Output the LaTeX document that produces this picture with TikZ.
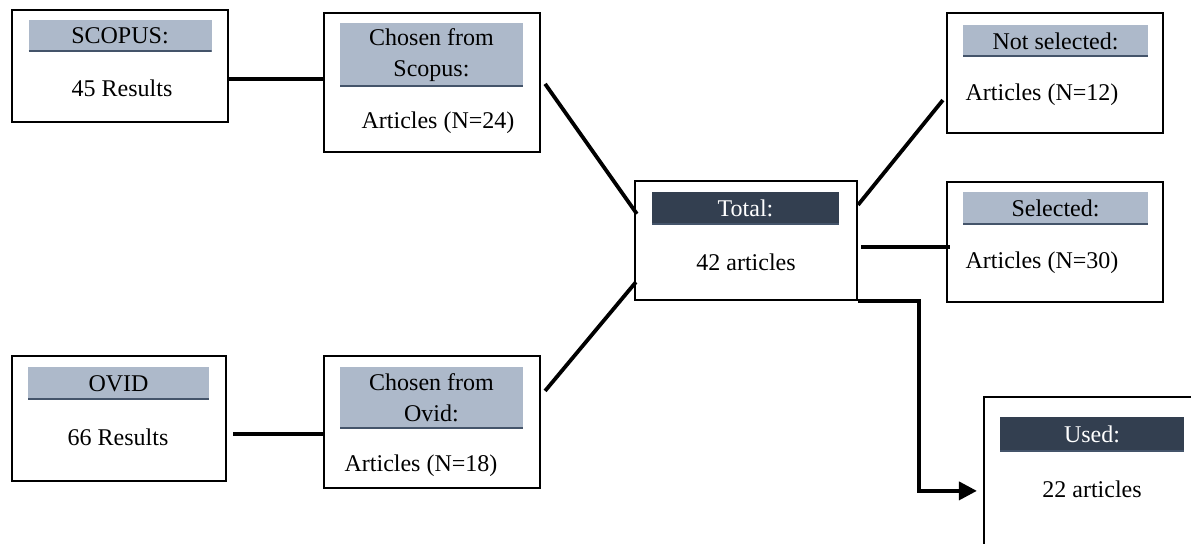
\documentclass[tikz,border=0pt]{standalone}
\usepackage{fontspec}
\setmainfont{Liberation Serif}
\usetikzlibrary{arrows.meta, positioning, calc}
\definecolor{headlight}{HTML}{ADB9CA}
\definecolor{headdark}{HTML}{333F50}
\definecolor{headline}{HTML}{44546A}
\tikzset{
  box/.style={draw, line width=1.1pt, fill=white, inner sep=0pt},
  head/.style={fill=headlight, inner sep=0pt, align=center,
    path picture={\draw[headline, line width=2pt] (path picture bounding box.south west) -- (path picture bounding box.south east);}},
  headdk/.style={head, fill=headdark, text=white},
  conn/.style={line width=1.9pt},
}
\begin{document}
\begin{tikzpicture}[x=0.5pt, y=-0.5pt, font=\fontsize{12}{15.5}\selectfont]
      \useasboundingbox (0,0) rectangle (1191,544);
      \clip (0,0) rectangle (1191,544);

      % sources
      \node[box, minimum width=108pt, minimum height=56pt] (scopus) at (120, 66) {};
      \node[head, minimum width=91.5pt, minimum height=16pt] (scopush) at (120, 36) {SCOPUS:};
      \node (scopust) at (122, 88) {45 Results};

      \node[box, minimum width=107pt, minimum height=62.5pt] (ovid) at (119, 418.5) {};
      \node[head, minimum width=90.5pt, minimum height=16.5pt] (ovidh) at (118.5, 383.5) {OVID};
      \node (ovidt) at (118, 437) {66 Results};

      % chosen
      \node[box, minimum width=108pt, minimum height=69.5pt] (chs) at (432, 82.5) {};
      \node[head, minimum width=91.5pt, minimum height=32pt] (chsh) at (431.5, 55) {Chosen from\\Scopus:};
      \node (chst) at (438, 123) {Articles (N=24)};

      \node[box, minimum width=108pt, minimum height=66pt] (cho) at (432, 422) {};
      \node[head, minimum width=91.5pt, minimum height=31pt] (choh) at (431.5, 398) {Chosen from\\Ovid:};
      \node (chot) at (421, 466) {Articles (N=18)};

      % total
      \node[box, minimum width=111pt, minimum height=59.5pt] (total) at (746, 240.5) {};
      \node[headdk, minimum width=93.5pt, minimum height=16.5pt] (totalh) at (745.5, 208.5) {Total:};
      \node (totalt) at (746, 262) {42 articles};

      % results
      \node[box, minimum width=108pt, minimum height=60pt] (notsel) at (1055, 73) {};
      \node[head, minimum width=92.5pt, minimum height=16pt] (notselh) at (1055.5, 41) {Not selected:};
      \node (notselt) at (1042, 95) {Articles (N=12)};

      \node[box, minimum width=108pt, minimum height=60pt] (sel) at (1055, 242) {};
      \node[head, minimum width=92.5pt, minimum height=16.5pt] (selh) at (1055.5, 208.5) {Selected:};
      \node (selt) at (1042, 263) {Articles (N=30)};

      \node[box, minimum width=108pt, minimum height=81.5pt] (used) at (1092, 478.5) {};
      \node[headdk, minimum width=92pt, minimum height=17.5pt] (usedh) at (1092, 434.5) {Used:};
      \node (usedt) at (1092, 489) {22 articles};

      % connectors
      \coordinate (s1) at ([shift={(0,13)}]scopus.east);
      \coordinate (o1) at ([shift={(6,15.5)}]ovid.east);
      \coordinate (t1) at ([shift={(3,6.5)}]total.east);
      \draw[conn] (s1) -- (s1 -| chs.west);
      \draw[conn] (o1) -- (o1 -| cho.west);
      \draw[conn] ([shift={(4,72)}]chs.north east) -- ([shift={(3,34)}]total.north west);
      \draw[conn] ([shift={(4,36)}]cho.north east) -- ([shift={(2,-19)}]total.south west);
      \draw[conn] ([shift={(0,25)}]total.north east) -- ([shift={(-3,-34)}]notsel.south west);
      \draw[conn] (t1) -- ([xshift=2pt]t1 -| sel.west);
      \draw[conn, -{Triangle[length=9pt, width=9pt]}] (total.south east) -- ++(61,0) |- ([shift={(-6,95)}]used.north west);

    \end{tikzpicture}
\end{document}
